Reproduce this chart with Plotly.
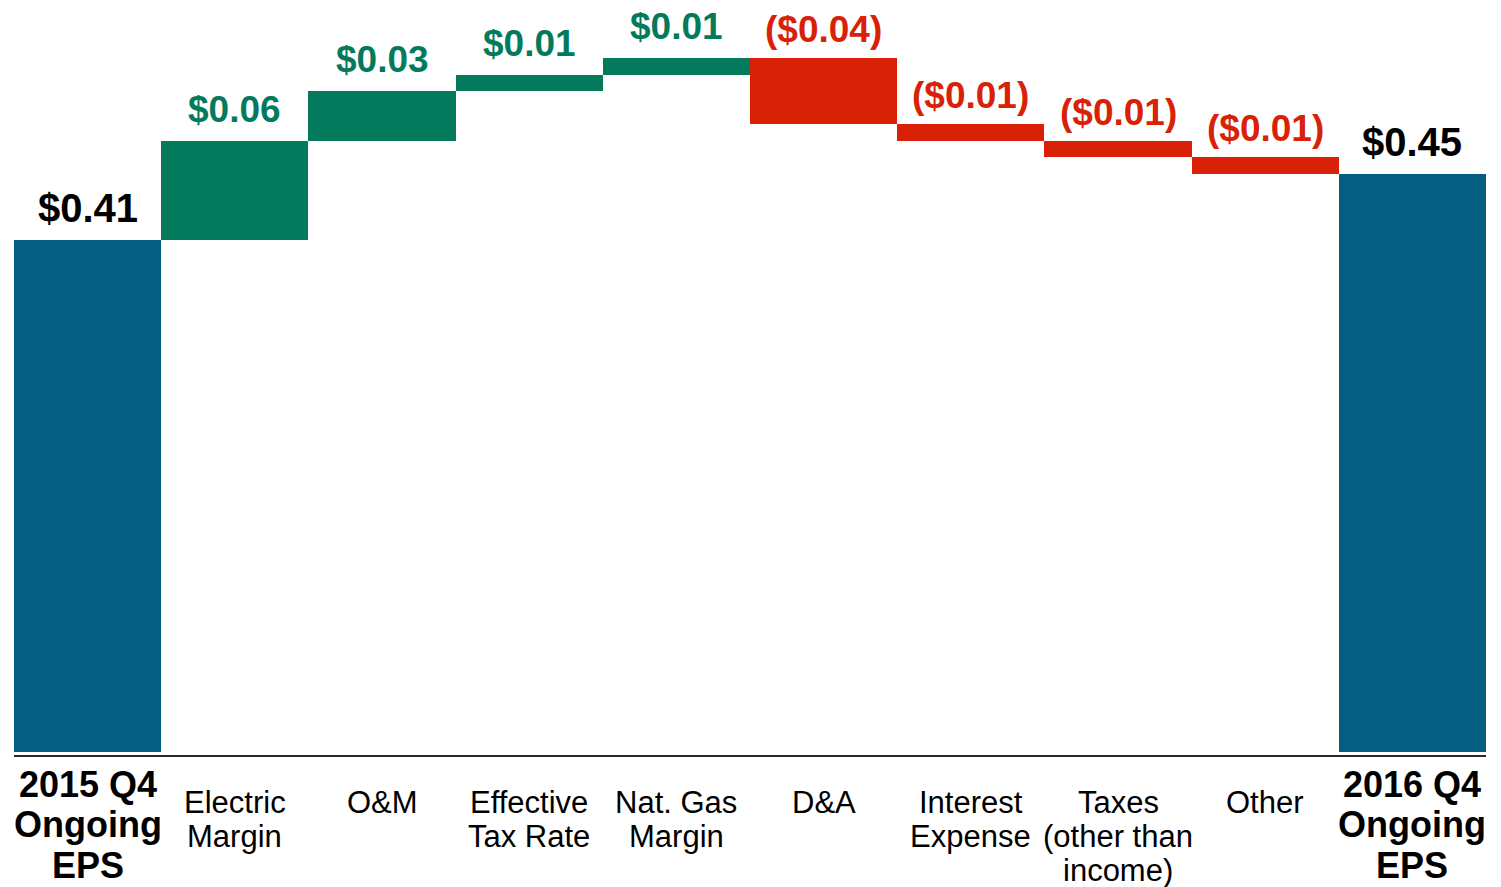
import plotly.graph_objects as go

# ---- data ----
categories = ["2015 Q4<br>Ongoing<br>EPS", "Electric<br>Margin", "O&M", "Effective<br>Tax Rate",
              "Nat. Gas<br>Margin", "D&A", "Interest<br>Expense", "Taxes<br>(other than<br>income)",
              "Other", "2016 Q4<br>Ongoing<br>EPS"]
kinds = ["total", "delta", "delta", "delta", "delta", "delta", "delta", "delta", "delta", "total"]
values = [0.41, 0.06, 0.03, 0.01, 0.01, -0.04, -0.01, -0.01, -0.01, 0.45]

# ---- style ----
AXIS_FLOOR = 0.10
Y_RANGE = [0.0983, 0.5553]
BLUE = "#045E81"
GREEN = "#047A5D"
RED = "#D92108"
FONT = "Liberation Sans, Arial, sans-serif"

xs = list(range(len(categories)))
bases, heights, colors = [], [], []
running = 0.0
for k, v in zip(kinds, values):
    if k == "total":
        bases.append(AXIS_FLOOR)
        heights.append(v - AXIS_FLOOR)
        colors.append(BLUE)
        running = v
    else:
        bases.append(running)
        heights.append(v)
        colors.append(GREEN if v >= 0 else RED)
        running += v

fig = go.Figure()
fig.add_trace(go.Bar(
    x=xs, y=heights, base=bases,
    marker=dict(color=colors, line=dict(width=0)),
    hoverinfo="skip", showlegend=False,
))

annotations = []
for i, (k, v, b, h) in enumerate(zip(kinds, values, bases, heights)):
    top = max(b, b + h)
    if k == "total":
        txt = f"<b>${v:.2f}</b>"
        font = dict(family=FONT, size=40, color="#000000")
        ys = 8
    elif v >= 0:
        txt = f"<b>${v:.2f}</b>"
        font = dict(family=FONT, size=37, color=GREEN)
        ys = 9
    else:
        txt = f"<b>(${abs(v):.2f})</b>"
        font = dict(family=FONT, size=37, color=RED)
        ys = 6
    annotations.append(dict(x=i, y=top, xref="x", yref="y", text=txt, showarrow=False,
                            yanchor="bottom", yshift=ys, font=font))
    # category label, one annotation per line for tight line spacing
    lines = categories[i].split("<br>")
    if k == "total":
        first, step, size, bold = 29, 40.5, 36, True
    else:
        first, step, size, bold = 47, 34, 31, False
    for j, line in enumerate(lines):
        annotations.append(dict(
            x=i, y=0, xref="x", yref="paper",
            text=f"<b>{line}</b>" if bold else line,
            showarrow=False, yanchor="middle", yshift=-(first + j * step),
            font=dict(family=FONT, size=size, color="#000000")))

fig.update_layout(
    width=1501, height=887,
    margin=dict(l=14, r=15, t=0, b=132),
    paper_bgcolor="white", plot_bgcolor="white",
    bargap=0,
    annotations=annotations,
    xaxis=dict(range=[-0.5, len(categories) - 0.5], showticklabels=False, ticks="",
               showgrid=False, zeroline=False, showline=True, linecolor="#2b2b2b", linewidth=2),
    yaxis=dict(range=Y_RANGE, showticklabels=False, ticks="", showgrid=False,
               zeroline=False, showline=False),
)

fig.write_html("out.html", config={"displayModeBar": False},
               post_script="document.body.style.margin='0px';")
